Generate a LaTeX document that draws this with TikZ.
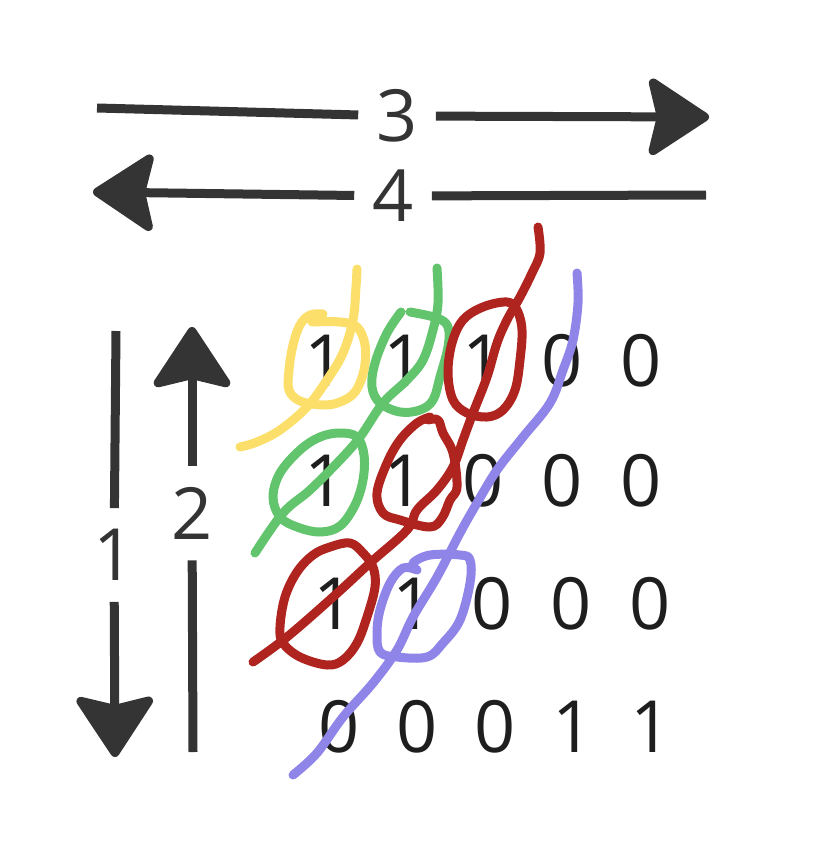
\documentclass[tikz,border=0pt]{standalone}
\usepackage{fontspec}
\setmainfont{Open Sans}
\usetikzlibrary{arrows.meta}
\definecolor{ink}{HTML}{343434}
\definecolor{digit}{HTML}{1E1E1E}
\definecolor{penyellow}{HTML}{FCDF6A}
\definecolor{pengreen}{HTML}{62C46C}
\definecolor{penred}{HTML}{AF241E}
\definecolor{penpurple}{HTML}{8F84E8}
\begin{document}
\begin{tikzpicture}[x=1pt,y=-1pt,
  bar/.style={line width=9pt, draw=ink},
  dir/.style={bar, -{Stealth[length=66pt,width=86pt,inset=10pt,round]}},
  num/.style={font=\fontsize{72}{86}\selectfont, text=ink, inner xsep=18pt, inner ysep=21pt},
  bit/.style={font=\fontsize{72}{86}\selectfont, text=digit, inner sep=0pt},
  pen/.style={line width=9pt, line cap=round, line join=round},
]
  \useasboundingbox (0,0) rectangle (826,864);

  % direction arrows
  \coordinate (s3) at (97,108);
  \node[num] (n3) at (397,116) {3};
  \coordinate (e3) at (709,117);
  \draw[bar] (s3) -- (n3);
  \draw[dir] (n3) -- (e3);

  \coordinate (s4) at (706,195);
  \node[num] (n4) at (393,196) {4};
  \coordinate (e4) at (93,192);
  \draw[bar] (s4) -- (n4);
  \draw[dir] (n4) -- (e4);

  \coordinate (s1) at (116,331);
  \node[num] (n1) at (114,555) {1};
  \coordinate (e1) at (115,757);
  \draw[bar] (s1) -- (n1);
  \draw[dir] (n1) -- (e1);

  \coordinate (s2) at (193,752);
  \node[num] (n2) at (192,513) {2};
  \coordinate (e2) at (192,327);
  \draw[bar] (s2) -- (n2);
  \draw[dir] (n2) -- (e2);

  % the bits
  \foreach \r/\y/\x/\s/\vals in {1/361/325/79/{1,1,1,0,0}, 2/481/325/79/{1,1,0,0,0},
                                 3/604/334/79/{1,1,0,0,0}, 4/727/339/78/{0,0,0,1,1}}
    \foreach \v [count=\c] in \vals
      \node[bit] (b\r\c) at ({\x+\s*(\c-1)},\y) {\v};

  % yellow
  \draw[pen, penyellow] plot[smooth, tension=0.6] coordinates
    {(357,269) (356,287) (353,320) (343,353) (327,380) (307,407) (280,430) (257,442) (240,447)};
  \draw[pen, penyellow] plot[smooth, tension=0.6] coordinates
    {(323,314) (310,315) (300,325) (293,345) (289,370) (289,390) (300,401) (323,405)
     (340,402) (355,392) (364,370) (365,345) (357,327) (340,322) (312,322)};

  % green
  \draw[pen, pengreen] plot[smooth, tension=0.6] coordinates
    {(437,268) (438,303) (433,330) (423,360) (407,380) (383,403) (360,437) (340,460)
     (310,490) (283,513) (255,553)};
  \draw[pen, pengreen] plot[smooth, tension=0.6] coordinates
    {(401,312) (387,333) (375,363) (372,387) (380,403) (400,412) (420,410) (433,400)
     (440,377) (448,347) (448,327) (437,318) (410,312)};
  \draw[pen, pengreen] plot[smooth cycle, tension=0.6] coordinates
    {(340,433) (320,437) (300,450) (280,473) (273,497) (280,517) (297,527) (320,532)
     (340,526) (355,505) (363,480) (364,455) (357,437)};

  % red
  \draw[pen, penred] plot[smooth, tension=0.6] coordinates
    {(538,227) (540,253) (532,273) (520,297) (507,320) (497,343) (487,377) (473,413)
     (463,440) (453,467) (437,490) (417,510) (407,530) (370,563) (333,597) (287,637) (253,662)};
  \draw[pen, penred] plot[smooth cycle, tension=0.6] coordinates
    {(507,302) (483,307) (463,320) (452,343) (448,373) (453,400) (467,413) (487,417)
     (503,410) (515,390) (520,360) (522,330) (517,310)};
  \draw[pen, penred] plot[smooth, tension=0.6] coordinates
    {(430,417) (417,423) (400,440) (387,463) (377,493) (383,513) (400,520) (430,527)
     (442,518) (450,500) (457,487) (453,453) (443,433) (438,420) (428,420)};
  \draw[pen, penred] plot[smooth cycle, tension=0.6] coordinates
    {(350,543) (330,547) (313,555) (297,572) (285,597) (280,627) (283,643) (300,657)
     (327,665) (343,660) (357,643) (367,617) (375,587) (373,567) (363,553)};

  % purple
  \draw[pen, penpurple] plot[smooth, tension=0.6] coordinates
    {(577,273) (578,303) (573,340) (563,370) (550,403) (523,437) (497,470) (477,503)
     (460,533) (437,577) (413,617) (397,650) (373,683) (343,717) (317,753) (293,775)};
  \draw[pen, penpurple] plot[smooth, tension=0.6] coordinates
    {(417,570) (403,568) (390,583) (380,610) (377,633) (380,652) (397,657) (427,657)
     (443,643) (460,620) (470,583) (470,560) (460,555) (430,555) (413,563) (417,570)};
\end{tikzpicture}
\end{document}
